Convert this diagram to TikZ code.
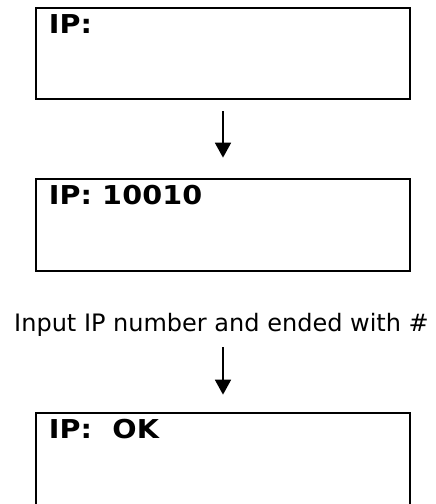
\documentclass[tikz,border=0pt]{standalone}
\usepackage{fontspec}
\setmainfont{DejaVu Sans}
\newfontfamily\lcdfont[LetterSpace=0.5,FakeStretch=1.1]{DejaVu Sans}
\usetikzlibrary{arrows.meta}
\begin{document}
\begin{tikzpicture}[x=1pt,y=-1pt,
  screen/.style={draw=black, line width=2.7pt, minimum width=374pt, inner sep=0pt},
  lcdtext/.style={anchor=base west, inner sep=0pt, font=\lcdfont\bfseries\fontsize{26}{30}\selectfont},
  flow/.style={-{Triangle[width=16pt,length=15pt]}, line width=1.8pt},
  caption/.style={inner sep=0pt, font=\fontsize{24}{28}\selectfont}]
\clip (0,0) rectangle (436,504);
\fill[white] (0,0) rectangle (436,504);
\node[screen, minimum height=91pt] (b1) at (223,53.5) {};
\node[screen, minimum height=92pt] (b2) at (223,225) {};
\node[screen, minimum height=92pt] (b3) at (223,459) {};
\node[lcdtext] (t1) at ([xshift=14pt,yshift=-26.5pt]b1.north west) {IP:};
\node[lcdtext] (t2) at ([xshift=14pt,yshift=-26.5pt]b2.north west) {IP: 10010};
\node[lcdtext] (t3) at ([xshift=14pt,yshift=-26.5pt]b3.north west) {IP:\ \ OK};
\node[caption, anchor=base] (lab) at (221.5,331) {Input IP number and ended with \#};
\draw[flow, shorten <=11pt, shorten >=20pt] (b1.south) -- (b2.north);
\draw[flow, shorten <=11pt, shorten >=17pt] (lab.south -| b3.north) -- (b3.north);
\end{tikzpicture}
\end{document}
